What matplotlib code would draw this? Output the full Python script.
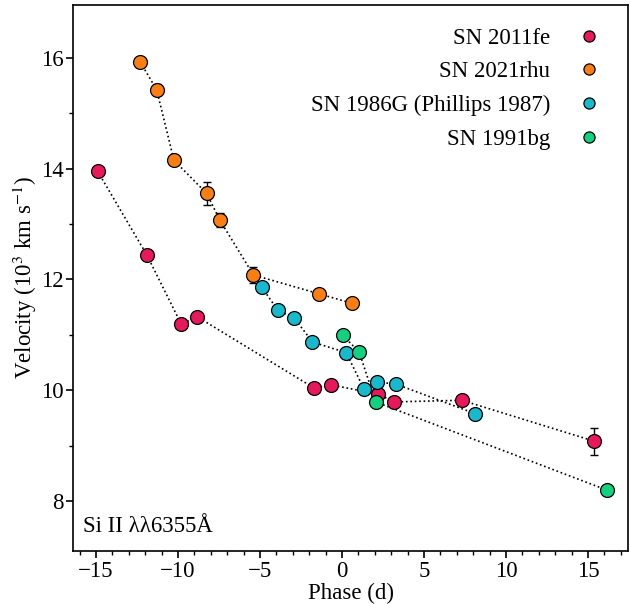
"""
Si II 6355 velocity evolution for a handful of Type Ia supernovae.
"""

import matplotlib.pyplot as plt
from matplotlib.ticker import MultipleLocator

plt.rcParams["font.family"] = "Liberation Serif"
plt.rcParams["mathtext.fontset"] = "stix"

# SN 2011fe
phase_11fe = [-14.9, -11.9, -9.8, -8.85, -1.7, -0.7, 2.2, 3.2, 7.3, 15.4]
vel_11fe = [13.95, 12.44, 11.19, 11.33, 10.04, 10.10, 9.93, 9.79, 9.82, 9.08]
err_11fe = [0.05, 0.04, 0.04, 0.04, 0.04, 0.04, 0.04, 0.04, 0.05, 0.24]

# SN 2021rhu
phase_21rhu = [-12.3, -11.3, -10.25, -8.25, -7.45, -5.4, -1.4, 0.6]
vel_21rhu = [15.92, 15.42, 14.15, 13.55, 13.07, 12.08, 11.74, 11.57]
err_21rhu = [0.07, 0.1, 0.05, 0.2, 0.12, 0.14, 0.04, 0.04]

# SN 1986G (Phillips 1987)
phase_86g = [-4.9, -3.9, -2.9, -1.8, 0.25, 1.35, 2.15, 3.3, 8.1]
vel_86g = [11.86, 11.44, 11.30, 10.87, 10.68, 10.02, 10.15, 10.11, 9.58]

# SN 1991bg
phase_91bg = [0.05, 1.05, 2.05, 16.15]
vel_91bg = [10.99, 10.69, 9.79, 8.20]

colors = {
    "SN 2011fe": "#e8195a",
    "SN 2021rhu": "#fb7e12",
    "SN 1986G (Phillips 1987)": "#19b9cd",
    "SN 1991bg": "#12d17f",
}

fs = 16.5

fig = plt.figure(figsize=(6.3, 6.04), dpi=100)
ax = fig.add_axes([0.116, 0.0877, 0.881, 0.904])

ms = 10
line_kw = dict(ls=":", color="k", lw=1.2, zorder=1)
mark_kw = dict(ls="none", marker="o", ms=ms, mec="k", mew=0.9, zorder=3)

ax.plot(phase_11fe, vel_11fe, **line_kw)
ax.plot(phase_21rhu, vel_21rhu, **line_kw)
ax.plot(phase_86g, vel_86g, **line_kw)
ax.plot(phase_91bg, vel_91bg, **line_kw)

ax.errorbar(phase_11fe, vel_11fe, yerr=err_11fe, fmt="none", ecolor="k",
            elinewidth=1, capsize=3, zorder=2)
ax.errorbar(phase_21rhu, vel_21rhu, yerr=err_21rhu, fmt="none", ecolor="k",
            elinewidth=1, capsize=3, zorder=2)

ax.plot(phase_11fe, vel_11fe, mfc=colors["SN 2011fe"], label="SN 2011fe", **mark_kw)
ax.plot(phase_21rhu, vel_21rhu, mfc=colors["SN 2021rhu"], label="SN 2021rhu", **mark_kw)
ax.plot(phase_86g, vel_86g, mfc=colors["SN 1986G (Phillips 1987)"],
        label="SN 1986G (Phillips 1987)", **mark_kw)
ax.plot(phase_91bg, vel_91bg, mfc=colors["SN 1991bg"], label="SN 1991bg", **mark_kw)

ax.set_xlim(-16.4, 17.45)
ax.set_ylim(7.1, 16.95)
ax.xaxis.set_major_locator(MultipleLocator(5))
ax.xaxis.set_minor_locator(MultipleLocator(1))
ax.yaxis.set_major_locator(MultipleLocator(2))
ax.yaxis.set_minor_locator(MultipleLocator(1))
ax.tick_params(which="both", direction="out", top=False, right=False, labelsize=fs)
ax.tick_params(which="major", length=5, width=1.2, pad=2)
ax.tick_params(which="minor", length=3, width=1)
for sp in ax.spines.values():
    sp.set_linewidth(1.2)

ax.set_xlabel("Phase (d)", fontsize=fs, labelpad=1)
ax.set_ylabel(r"Velocity (10$^3$ km s$^{-1}$)", fontsize=fs, labelpad=1)

ax.text(0.018, 0.045, "Si II λλ6355Å", transform=ax.transAxes, fontsize=fs,
        ha="left", va="center")

ax.legend(loc="upper right", bbox_to_anchor=(1.0, 0.988), frameon=False,
          markerfirst=False, fontsize=fs, handletextpad=0.7, labelspacing=0.55,
          borderaxespad=0.3, borderpad=0.4, markerscale=0.8)

fig.savefig("out.png", dpi=100)
